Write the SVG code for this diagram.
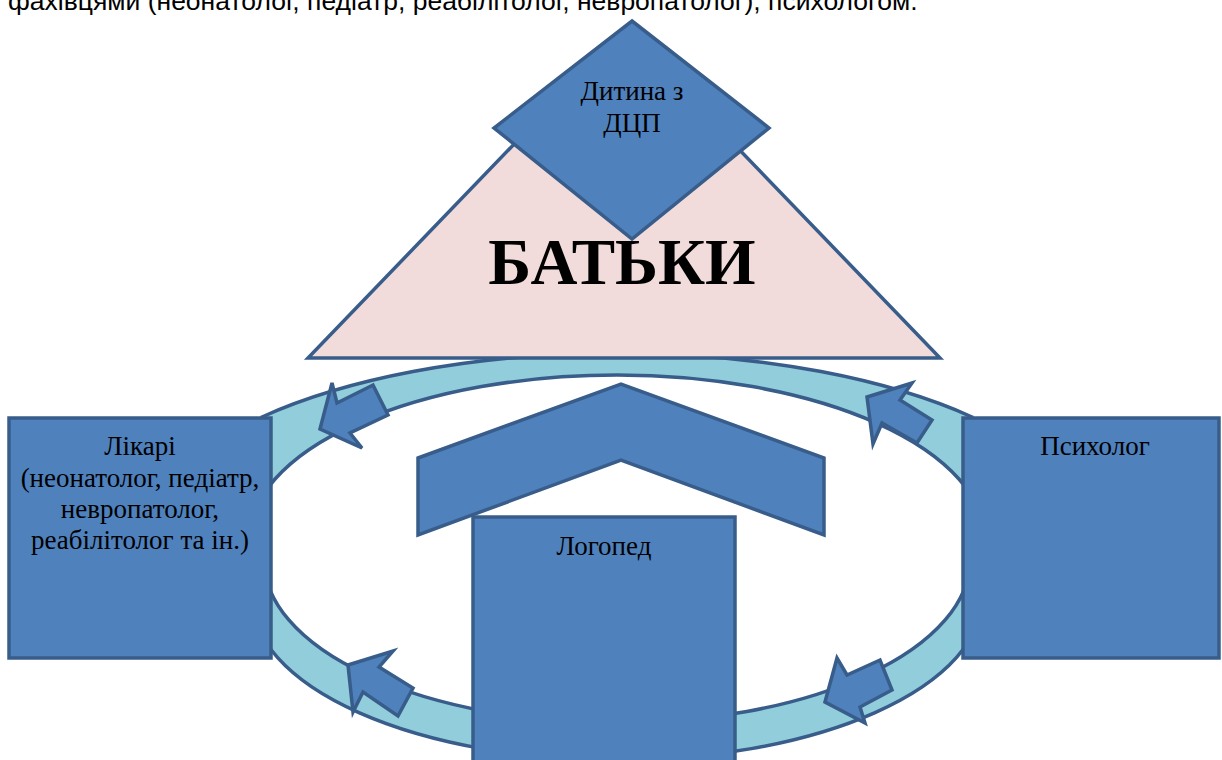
<svg xmlns="http://www.w3.org/2000/svg" width="1222" height="760" viewBox="0 0 1222 760">
<style>
.blue{fill:#4F81BD;stroke:#385D8A;stroke-width:3.5;stroke-linejoin:miter}
.ring{fill:#92CDDC;stroke:#385D8A;stroke-width:3.5}
.hole{fill:#FFFFFF;stroke:#385D8A;stroke-width:3.5}
.tri{fill:#F2DCDB;stroke:#385D8A;stroke-width:3.5}
.lbl{font-family:"Liberation Serif","Times New Roman",serif;font-size:27px;fill:#000;text-anchor:middle}
.top{font-family:"Liberation Sans",Arial,sans-serif;font-size:26.5px;fill:#000}
.big{font-family:"Liberation Serif","Times New Roman",serif;font-size:65px;font-weight:bold;fill:#000;text-anchor:middle}
</style>
<rect width="1222" height="760" fill="#FFFFFF"/>
<text class="top" x="8" y="10">фахівцями (неонатолог, педіатр, реабілітолог, невропатолог), психологом.</text>
<g id="ring">
<path class="ring" d="M262,417 A469,184 0 0 1 972,417 L982,598 A365,162 0 1 1 252,598 Z"/>
<path class="hole" d="M249,540 A368,165 0 0 1 985,540 L970,560 A353,163 0 0 1 264,560 Z"/>
</g>
<g id="connectors">
<polygon class="blue" points="320,429 332,383 337,403 373,385 388,415 350,433 362,448"/>
<polygon class="blue" points="867,397 912,383 900,400 932,420 917,443 882,423 873,444"/>
<polygon class="blue" points="348,665 393,651 379,667 413,688 398,716 363,692 353,712"/>
<polygon class="blue" points="825,702 837,658 847,675 880,660 892,690 860,707 865,723"/>
</g>
<g id="parents">
<polygon class="tri" points="624,30 940,358 308,358"/>
<text class="big" x="622" y="284">БАТЬКИ</text>
</g>
<g id="child">
<polygon class="blue" points="632,21 769,128 632,239 494,128"/>
<text class="lbl" x="632" y="100">Дитина з</text>
<text class="lbl" x="632" y="132">ДЦП</text>
</g>
<g id="chevron">
<polygon class="blue" points="418,458 621,384 824,458 824,535 621,460 418,535"/>
</g>
<g id="doctors">
<rect class="blue" x="9" y="418" width="262" height="240"/>
<text class="lbl" x="140" y="455">Лікарі</text>
<text class="lbl" x="140" y="487">(неонатолог, педіатр,</text>
<text class="lbl" x="140" y="518">невропатолог,</text>
<text class="lbl" x="140" y="549">реабілітолог та ін.)</text>
</g>
<g id="psychologist">
<rect class="blue" x="963" y="418" width="256" height="240"/>
<text class="lbl" x="1095" y="455">Психолог</text>
</g>
<g id="speech-therapist">
<rect class="blue" x="473" y="517" width="262" height="250"/>
<text class="lbl" x="604" y="555">Логопед</text>
</g>
</svg>
